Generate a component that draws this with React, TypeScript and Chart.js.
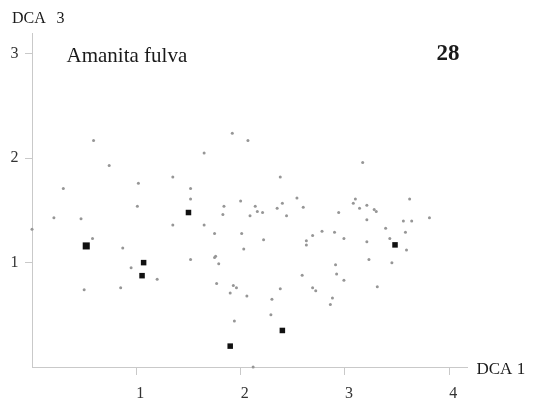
import React, { useEffect, useRef } from 'react';
import { Chart, registerables } from 'chart.js';

Chart.register(...registerables);

// Sample plots (DCA site scores)
const siteAxis1 = [
  0.59, 0.74, 0.30, 1.02, 1.35, 1.01, 0.21, 0.47, 0.00, 1.35, 0.58, 0.87, 0.95, 1.20, 0.50, 0.85,
  1.92, 2.07, 1.65, 2.38, 1.52, 1.52, 1.65, 1.84, 1.83, 2.00, 2.09, 2.14, 2.16, 2.21, 2.35, 2.40, 2.44, 2.54, 2.60, 2.94,
  1.75, 2.01, 2.03, 2.22, 1.52, 1.75, 1.76, 1.79, 2.63, 2.63, 2.69, 2.78, 2.90, 2.99, 2.91, 2.92, 2.99, 2.59,
  1.77, 1.93, 1.96, 1.90, 2.06, 2.38, 2.69, 2.72, 2.88, 2.30,
  3.17, 3.62, 3.10, 3.08, 3.14, 3.21, 3.28, 3.30, 3.21, 3.56, 3.64, 3.81, 3.39, 3.58, 3.43, 3.21, 3.59, 3.23, 3.45, 3.31,
  2.29, 1.94, 2.12, 2.86,
];
const siteAxis3 = [
  2.17, 1.93, 1.71, 1.76, 1.82, 1.54, 1.43, 1.42, 1.32, 1.36, 1.23, 1.14, 0.95, 0.84, 0.74, 0.76,
  2.24, 2.17, 2.05, 1.82, 1.71, 1.61, 1.36, 1.54, 1.46, 1.59, 1.45, 1.54, 1.49, 1.48, 1.52, 1.57, 1.45, 1.62, 1.53, 1.48,
  1.28, 1.28, 1.13, 1.22, 1.03, 1.05, 1.06, 0.99, 1.21, 1.17, 1.26, 1.30, 1.29, 1.23, 0.98, 0.89, 0.83, 0.88,
  0.80, 0.78, 0.76, 0.71, 0.68, 0.75, 0.76, 0.73, 0.66, 0.65,
  1.96, 1.61, 1.61, 1.57, 1.52, 1.55, 1.51, 1.49, 1.41, 1.40, 1.40, 1.43, 1.33, 1.29, 1.23, 1.20, 1.12, 1.03, 1.00, 0.77,
  0.50, 0.44, 0.00, 0.60,
];

// Plots where the species was recorded
const occurrenceAxis1 = [0.52, 1.07, 1.055, 1.50, 3.48, 2.40, 1.90];
const occurrenceAxis3 = [1.16, 1.00, 0.875, 1.48, 1.17, 0.35, 0.20];
const occurrenceCount = [2, 1, 1, 1, 1, 1, 1];

const xTicks = [1, 2, 3, 4];
const yTicks = [1, 2, 3];

const speciesName = 'Amanita fulva';
const mapNumber = '28';
const xTitle = 'DCA 1';
const yTitleName = 'DCA';
const yTitleAxis = '3';

const SERIF = "'Liberation Serif', 'Times New Roman', serif";
const AXIS_GREY = '#c9c9c9';
const TICK_TEXT = '#333333';

const labelsPlugin = {
  id: 'ordinationLabels',
  afterDraw(chart: any) {
    const { ctx, chartArea } = chart;
    const xScale = chart.scales.x;
    ctx.save();
    ctx.fillStyle = '#1a1a1a';
    ctx.textBaseline = 'alphabetic';

    // vertical axis title
    ctx.font = `16px ${SERIF}`;
    ctx.textAlign = 'left';
    ctx.fillText(yTitleName, 12, 22.5);
    ctx.fillText(yTitleAxis, 56.5, 22.5);

    // horizontal axis title, beside the end of the axis
    ctx.font = `17px ${SERIF}`;
    ctx.fillText(xTitle, chartArea.right + 9.5, xScale.top + 7);

    // species name
    ctx.font = `21px ${SERIF}`;
    ctx.fillText(speciesName, 66.5, 62);

    // map number
    ctx.font = `bold 23px ${SERIF}`;
    ctx.textAlign = 'right';
    ctx.fillText(mapNumber, 459.5, 59.5);
    ctx.restore();
  },
};

export default function App() {
  const canvasRef = useRef<HTMLCanvasElement | null>(null);

  useEffect(() => {
    const canvas = canvasRef.current;
    if (!canvas) return;

    const occurrences = occurrenceAxis1.map((x, i) => ({ x, y: occurrenceAxis3[i] }));
    const sites = siteAxis1.map((x, i) => ({ x, y: siteAxis3[i] }));

    const chart = new Chart(canvas, {
      type: 'scatter',
      data: {
        datasets: [
          {
            label: speciesName,
            data: occurrences,
            pointStyle: 'rect',
            pointRadius: occurrenceCount.map((c) => (c > 1 ? 5 : 3.9)),
            backgroundColor: '#111111',
            borderWidth: 0,
            clip: false,
          },
          {
            label: 'plots',
            data: sites,
            pointStyle: 'circle',
            pointRadius: 1.5,
            backgroundColor: '#969696',
            borderWidth: 0,
            clip: false,
          },
        ],
      },
      options: {
        responsive: false,
        animation: false,
        events: [],
        layout: { padding: { left: 0, top: 33, right: 68, bottom: 0 } },
        plugins: {
          legend: { display: false },
          tooltip: { enabled: false },
          title: { display: false },
        },
        scales: {
          x: {
            type: 'linear',
            min: 0,
            max: 4.17,
            afterBuildTicks: (s: any) => {
              s.ticks = xTicks.map((v) => ({ value: v }));
            },
            afterFit: (s: any) => {
              s.height = 37;
            },
            grid: {
              display: true,
              drawOnChartArea: false,
              drawTicks: true,
              tickLength: 8,
              color: AXIS_GREY,
              lineWidth: 1,
            },
            border: { display: true, color: AXIS_GREY, width: 1 },
            ticks: {
              color: TICK_TEXT,
              font: { family: SERIF, size: 16 },
              padding: 9,
              labelOffset: 4,
              maxRotation: 0,
              autoSkip: false,
            },
          },
          y: {
            type: 'linear',
            min: 0,
            max: 3.2,
            afterBuildTicks: (s: any) => {
              s.ticks = yTicks.map((v) => ({ value: v }));
            },
            afterFit: (s: any) => {
              s.width = 32;
            },
            grid: {
              display: true,
              drawOnChartArea: false,
              drawTicks: true,
              tickLength: 7,
              color: AXIS_GREY,
              lineWidth: 1,
            },
            border: { display: true, color: AXIS_GREY, width: 1 },
            ticks: {
              color: TICK_TEXT,
              font: { family: SERIF, size: 16 },
              padding: 6.5,
              autoSkip: false,
            },
          },
        },
      },
      plugins: [labelsPlugin],
    });

    return () => chart.destroy();
  }, []);

  return (
    <div style={{ position: 'fixed', left: 0, top: 0, width: 535, height: 404, background: '#ffffff' }}>
      <canvas ref={canvasRef} width={535} height={404} style={{ display: 'block' }} />
    </div>
  );
}
